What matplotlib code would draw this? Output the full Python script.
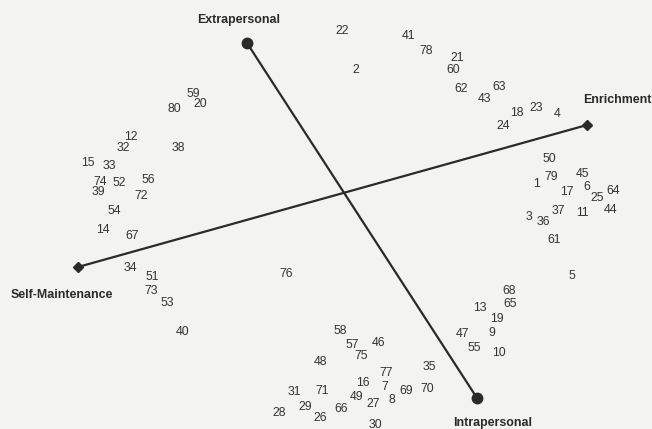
import matplotlib.pyplot as plt

# item positions on the two-dimensional map (pixel-like units, y grows downward)
item_ids = [22, 41, 78, 21, 2, 60, 62, 63, 43, 18, 23, 4, 24,
            59, 20, 80, 12, 32, 38, 15, 33, 74, 52, 56, 39, 72, 54, 14, 67,
            34, 51, 73, 53, 40, 76,
            50, 79, 1, 45, 6, 17, 64, 25, 44, 37, 11, 3, 36, 61, 5,
            68, 65, 13, 19, 47, 9, 55, 10,
            58, 57, 46, 75, 48, 35, 77, 16, 7, 69, 70, 31, 71, 49, 27, 8,
            29, 66, 28, 26, 30]
item_x = [342, 409, 426, 457, 356, 453, 461, 499, 485, 517, 536, 557, 503,
          193, 200, 174, 131, 123, 178, 88, 109, 100, 119, 148, 98, 141, 114, 103, 132,
          130, 152, 151, 167, 183, 286,
          549, 551, 537, 582, 587, 567, 613, 597, 610, 558, 582, 529, 543, 554, 572,
          509, 510, 480, 497, 463, 492, 474, 499,
          340, 352, 379, 361, 321, 429, 386, 363, 385, 406, 427, 294, 322, 357, 373, 392,
          305, 341, 279, 320, 375]
item_y = [31, 36, 51, 58, 70, 70, 89, 87, 99, 113, 108, 114, 126,
          94, 104, 109, 137, 148, 148, 163, 166, 182, 183, 180, 192, 196, 211, 230, 236,
          268, 277, 291, 303, 332, 274,
          159, 177, 184, 174, 187, 192, 191, 198, 210, 211, 213, 217, 222, 240, 276,
          291, 304, 308, 319, 334, 333, 348, 353,
          331, 345, 343, 356, 362, 367, 373, 383, 387, 391, 389, 392, 391, 397, 404, 400,
          407, 409, 413, 418, 425]

# dimension axes: endpoints and their labels
dim_names = ["Extrapersonal", "Intrapersonal", "Self-Maintenance", "Enrichment"]
dim_x = [247, 477, 78, 587]
dim_y = [43, 398, 267, 125]
dim_label_x = [239, 493, 62, 617]
dim_label_y = [20, 423, 295, 100]

W, H = 652, 429
fig = plt.figure(figsize=(W / 100, H / 100), dpi=100)
fig.patch.set_facecolor("#f3f3f1")
ax = fig.add_axes([0, 0, 1, 1])
ax.set_xlim(0, W)
ax.set_ylim(H, 0)
ax.axis("off")

ink = "#2a2a2a"

# vertical-ish dimension: Extrapersonal -> Intrapersonal
ax.plot(dim_x[0:2], dim_y[0:2], color=ink, lw=1.6, zorder=2)
ax.plot(dim_x[0:2], dim_y[0:2], "o", color=ink, ms=7.5, zorder=3)
# horizontal-ish dimension: Self-Maintenance -> Enrichment
ax.plot(dim_x[2:4], dim_y[2:4], color=ink, lw=1.6, zorder=2)
ax.plot(dim_x[2:4], dim_y[2:4], "D", color=ink, ms=5.5, zorder=3)

for name, lx, ly in zip(dim_names, dim_label_x, dim_label_y):
    ax.text(lx, ly, name, ha="center", va="center", fontsize=8.9,
            fontweight="bold", color=ink, family="Liberation Sans")

for i, x, y in zip(item_ids, item_x, item_y):
    ax.text(x, y, str(i), ha="center", va="center", fontsize=8.8,
            color="#333333", family="Liberation Sans")

fig.savefig("out.png", dpi=100, facecolor=fig.get_facecolor())
